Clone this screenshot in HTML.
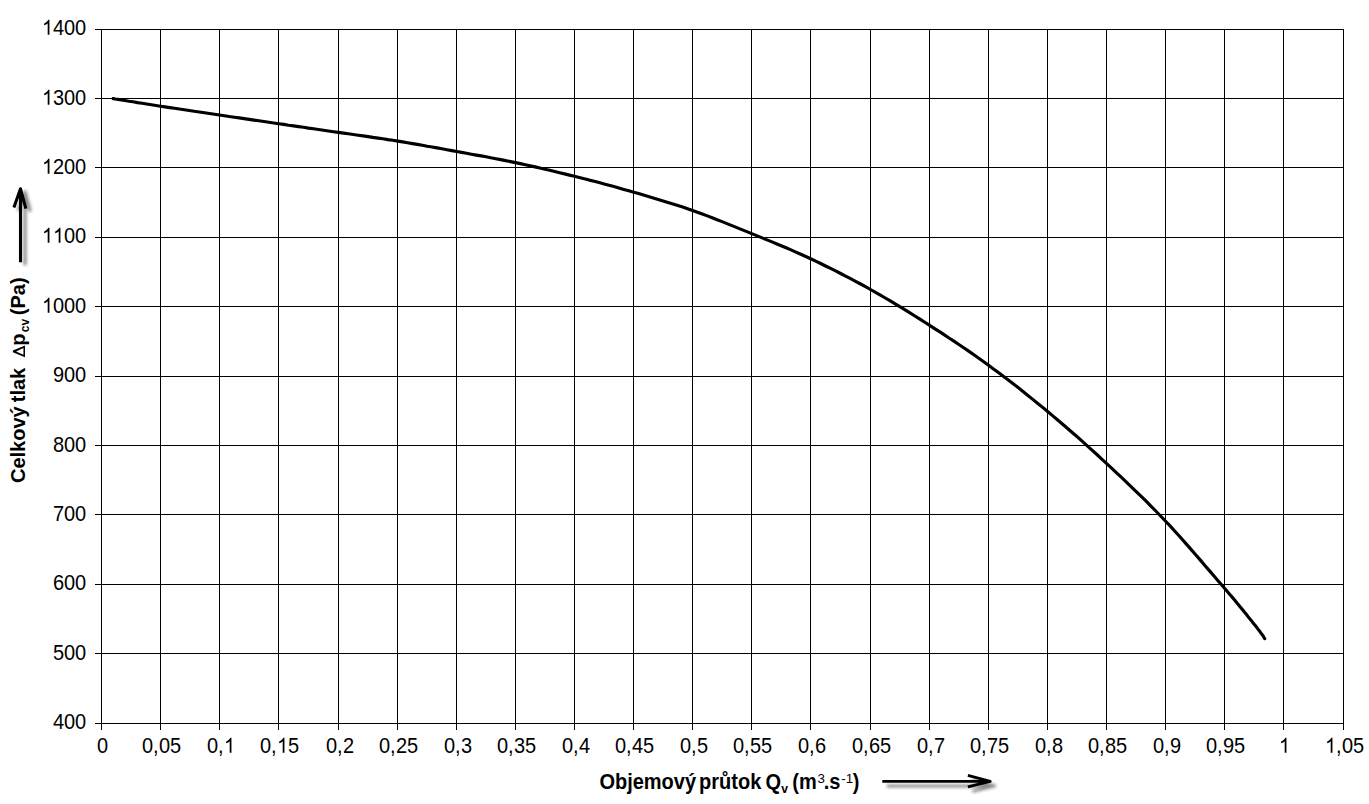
<!DOCTYPE html>
<html lang="cs"><head><meta charset="utf-8"><title>Charakteristika ventilátoru</title>
<style>html,body{margin:0;padding:0;background:#fff;}body{width:1369px;height:804px;overflow:hidden;}svg{display:block;}text{font-family:"Liberation Sans",sans-serif;fill:#000;}</style></head><body>
<svg width="1369" height="804" viewBox="0 0 1369 804">
<defs><filter id="sh" x="-30%" y="-30%" width="180%" height="180%"><feGaussianBlur stdDeviation="1.6"/></filter></defs>
<rect width="1369" height="804" fill="#fff"/>
<g stroke="#000" stroke-width="1" shape-rendering="crispEdges" fill="none">
<line x1="101.5" y1="29.0" x2="101.5" y2="730.0"/>
<line x1="160.5" y1="29.0" x2="160.5" y2="730.0"/>
<line x1="219.5" y1="29.0" x2="219.5" y2="730.0"/>
<line x1="278.5" y1="29.0" x2="278.5" y2="730.0"/>
<line x1="338.5" y1="29.0" x2="338.5" y2="730.0"/>
<line x1="397.5" y1="29.0" x2="397.5" y2="730.0"/>
<line x1="456.5" y1="29.0" x2="456.5" y2="730.0"/>
<line x1="515.5" y1="29.0" x2="515.5" y2="730.0"/>
<line x1="574.5" y1="29.0" x2="574.5" y2="730.0"/>
<line x1="633.5" y1="29.0" x2="633.5" y2="730.0"/>
<line x1="692.5" y1="29.0" x2="692.5" y2="730.0"/>
<line x1="751.5" y1="29.0" x2="751.5" y2="730.0"/>
<line x1="810.5" y1="29.0" x2="810.5" y2="730.0"/>
<line x1="870.5" y1="29.0" x2="870.5" y2="730.0"/>
<line x1="929.5" y1="29.0" x2="929.5" y2="730.0"/>
<line x1="988.5" y1="29.0" x2="988.5" y2="730.0"/>
<line x1="1047.5" y1="29.0" x2="1047.5" y2="730.0"/>
<line x1="1106.5" y1="29.0" x2="1106.5" y2="730.0"/>
<line x1="1165.5" y1="29.0" x2="1165.5" y2="730.0"/>
<line x1="1224.5" y1="29.0" x2="1224.5" y2="730.0"/>
<line x1="1283.5" y1="29.0" x2="1283.5" y2="730.0"/>
<line x1="1343.5" y1="29.0" x2="1343.5" y2="730.0"/>
<line x1="95.0" y1="29.5" x2="1344.0" y2="29.5"/>
<line x1="95.0" y1="98.5" x2="1344.0" y2="98.5"/>
<line x1="95.0" y1="167.5" x2="1344.0" y2="167.5"/>
<line x1="95.0" y1="237.5" x2="1344.0" y2="237.5"/>
<line x1="95.0" y1="306.5" x2="1344.0" y2="306.5"/>
<line x1="95.0" y1="376.5" x2="1344.0" y2="376.5"/>
<line x1="95.0" y1="445.5" x2="1344.0" y2="445.5"/>
<line x1="95.0" y1="514.5" x2="1344.0" y2="514.5"/>
<line x1="95.0" y1="584.5" x2="1344.0" y2="584.5"/>
<line x1="95.0" y1="653.5" x2="1344.0" y2="653.5"/>
<line x1="95.0" y1="723.5" x2="1344.0" y2="723.5"/>
</g>
<g font-size="21.40" fill="#000">
<g transform="translate(42.00,34.80) scale(0.9346,1.0000)"><path d="M7.97,0.00L6.09,0.00L6.09,-11.66Q5.41,-11.03 4.31,-10.40Q3.21,-9.77 2.33,-9.45L2.33,-11.22Q3.91,-11.94 5.09,-12.97Q6.27,-14.00 6.76,-14.96L7.97,-14.96Z"/><text x="11.77 23.54 35.31" y="0">400</text></g>
<g transform="translate(42.00,104.80) scale(0.9346,1.0000)"><path d="M7.97,0.00L6.09,0.00L6.09,-11.66Q5.41,-11.03 4.31,-10.40Q3.21,-9.77 2.33,-9.45L2.33,-11.22Q3.91,-11.94 5.09,-12.97Q6.27,-14.00 6.76,-14.96L7.97,-14.96Z"/><text x="11.77 23.54 35.31" y="0">300</text></g>
<g transform="translate(42.00,173.80) scale(0.9346,1.0000)"><path d="M7.97,0.00L6.09,0.00L6.09,-11.66Q5.41,-11.03 4.31,-10.40Q3.21,-9.77 2.33,-9.45L2.33,-11.22Q3.91,-11.94 5.09,-12.97Q6.27,-14.00 6.76,-14.96L7.97,-14.96Z"/><text x="11.77 23.54 35.31" y="0">200</text></g>
<g transform="translate(42.00,242.80) scale(0.9346,1.0000)"><path d="M7.97,0.00L6.09,0.00L6.09,-11.66Q5.41,-11.03 4.31,-10.40Q3.21,-9.77 2.33,-9.45L2.33,-11.22Q3.91,-11.94 5.09,-12.97Q6.27,-14.00 6.76,-14.96L7.97,-14.96Z"/><path d="M19.74,0.00L17.86,0.00L17.86,-11.66Q17.18,-11.03 16.08,-10.40Q14.98,-9.77 14.10,-9.45L14.10,-11.22Q15.68,-11.94 16.86,-12.97Q18.04,-14.00 18.53,-14.96L19.74,-14.96Z"/><text x="23.54 35.31" y="0">00</text></g>
<g transform="translate(42.00,312.80) scale(0.9346,1.0000)"><path d="M7.97,0.00L6.09,0.00L6.09,-11.66Q5.41,-11.03 4.31,-10.40Q3.21,-9.77 2.33,-9.45L2.33,-11.22Q3.91,-11.94 5.09,-12.97Q6.27,-14.00 6.76,-14.96L7.97,-14.96Z"/><text x="11.77 23.54 35.31" y="0">000</text></g>
<g transform="translate(53.00,381.80) scale(0.9346,1.0000)"><text x="0.00 11.77 23.54" y="0">900</text></g>
<g transform="translate(53.00,451.80) scale(0.9346,1.0000)"><text x="0.00 11.77 23.54" y="0">800</text></g>
<g transform="translate(53.00,520.80) scale(0.9346,1.0000)"><text x="0.00 11.77 23.54" y="0">700</text></g>
<g transform="translate(53.00,589.80) scale(0.9346,1.0000)"><text x="0.00 11.77 23.54" y="0">600</text></g>
<g transform="translate(53.00,659.80) scale(0.9346,1.0000)"><text x="0.00 11.77 23.54" y="0">500</text></g>
<g transform="translate(53.00,728.80) scale(0.9346,1.0000)"><text x="0.00 11.77 23.54" y="0">400</text></g>
<g transform="translate(97.00,752.80) scale(0.9346,1.0000)"><text x="0.00" y="0">0</text></g>
<g transform="translate(142.00,752.80) scale(0.9346,1.0000)"><text x="0.00 11.77 18.19 29.96" y="0">0,05</text></g>
<g transform="translate(207.00,752.80) scale(0.9346,1.0000)"><path d="M26.16,0.00L24.28,0.00L24.28,-11.66Q23.60,-11.03 22.50,-10.40Q21.40,-9.77 20.52,-9.45L20.52,-11.22Q22.10,-11.94 23.28,-12.97Q24.46,-14.00 24.95,-14.96L26.16,-14.96Z"/><text x="0.00 11.77" y="0">0,</text></g>
<g transform="translate(260.00,752.80) scale(0.9346,1.0000)"><path d="M26.16,0.00L24.28,0.00L24.28,-11.66Q23.60,-11.03 22.50,-10.40Q21.40,-9.77 20.52,-9.45L20.52,-11.22Q22.10,-11.94 23.28,-12.97Q24.46,-14.00 24.95,-14.96L26.16,-14.96Z"/><text x="0.00 11.77 29.96" y="0">0,5</text></g>
<g transform="translate(326.00,752.80) scale(0.9346,1.0000)"><text x="0.00 11.77 18.19" y="0">0,2</text></g>
<g transform="translate(379.00,752.80) scale(0.9346,1.0000)"><text x="0.00 11.77 18.19 29.96" y="0">0,25</text></g>
<g transform="translate(444.00,752.80) scale(0.9346,1.0000)"><text x="0.00 11.77 18.19" y="0">0,3</text></g>
<g transform="translate(497.00,752.80) scale(0.9346,1.0000)"><text x="0.00 11.77 18.19 29.96" y="0">0,35</text></g>
<g transform="translate(562.00,752.80) scale(0.9346,1.0000)"><text x="0.00 11.77 18.19" y="0">0,4</text></g>
<g transform="translate(615.00,752.80) scale(0.9346,1.0000)"><text x="0.00 11.77 18.19 29.96" y="0">0,45</text></g>
<g transform="translate(680.00,752.80) scale(0.9346,1.0000)"><text x="0.00 11.77 18.19" y="0">0,5</text></g>
<g transform="translate(733.00,752.80) scale(0.9346,1.0000)"><text x="0.00 11.77 18.19 29.96" y="0">0,55</text></g>
<g transform="translate(798.00,752.80) scale(0.9346,1.0000)"><text x="0.00 11.77 18.19" y="0">0,6</text></g>
<g transform="translate(852.00,752.80) scale(0.9346,1.0000)"><text x="0.00 11.77 18.19 29.96" y="0">0,65</text></g>
<g transform="translate(917.00,752.80) scale(0.9346,1.0000)"><text x="0.00 11.77 18.19" y="0">0,7</text></g>
<g transform="translate(970.00,752.80) scale(0.9346,1.0000)"><text x="0.00 11.77 18.19 29.96" y="0">0,75</text></g>
<g transform="translate(1035.00,752.80) scale(0.9346,1.0000)"><text x="0.00 11.77 18.19" y="0">0,8</text></g>
<g transform="translate(1088.00,752.80) scale(0.9346,1.0000)"><text x="0.00 11.77 18.19 29.96" y="0">0,85</text></g>
<g transform="translate(1153.00,752.80) scale(0.9346,1.0000)"><text x="0.00 11.77 18.19" y="0">0,9</text></g>
<g transform="translate(1206.00,752.80) scale(0.9346,1.0000)"><text x="0.00 11.77 18.19 29.96" y="0">0,95</text></g>
<g transform="translate(1279.00,752.80) scale(0.9346,1.0000)"><path d="M7.97,0.00L6.09,0.00L6.09,-11.66Q5.41,-11.03 4.31,-10.40Q3.21,-9.77 2.33,-9.45L2.33,-11.22Q3.91,-11.94 5.09,-12.97Q6.27,-14.00 6.76,-14.96L7.97,-14.96Z"/></g>
<g transform="translate(1325.00,752.80) scale(0.9346,1.0000)"><path d="M7.97,0.00L6.09,0.00L6.09,-11.66Q5.41,-11.03 4.31,-10.40Q3.21,-9.77 2.33,-9.45L2.33,-11.22Q3.91,-11.94 5.09,-12.97Q6.27,-14.00 6.76,-14.96L7.97,-14.96Z"/><text x="11.77 18.19 29.96" y="0">,05</text></g>
</g>
<path d="M113.1,98.6 L115.4,99.0 L118.1,99.4 L121.3,99.9 L125.0,100.5 L128.9,101.2 L133.1,101.8 L137.5,102.6 L142.1,103.3 L146.7,104.0 L151.4,104.8 L156.0,105.5 L160.5,106.2 L165.0,106.9 L169.7,107.6 L174.4,108.3 L179.3,109.0 L184.3,109.8 L189.3,110.5 L194.3,111.3 L199.4,112.0 L204.5,112.8 L209.5,113.5 L214.5,114.3 L219.5,115.0 L224.4,115.7 L229.3,116.5 L234.3,117.2 L239.2,117.9 L244.1,118.6 L249.1,119.4 L254.0,120.1 L258.9,120.8 L263.9,121.5 L268.8,122.3 L273.7,123.0 L278.7,123.7 L283.7,124.4 L288.6,125.2 L293.6,125.9 L298.6,126.6 L303.6,127.3 L308.5,128.1 L313.5,128.8 L318.5,129.5 L323.5,130.2 L328.5,131.0 L333.4,131.7 L338.4,132.4 L343.4,133.1 L348.3,133.8 L353.3,134.5 L358.2,135.2 L363.2,135.9 L368.1,136.6 L373.0,137.4 L378.0,138.1 L382.9,138.8 L387.8,139.6 L392.8,140.3 L397.7,141.1 L402.6,141.9 L407.6,142.7 L412.5,143.6 L417.4,144.4 L422.3,145.3 L427.2,146.2 L432.2,147.0 L437.1,147.9 L442.0,148.8 L446.9,149.7 L451.8,150.6 L456.7,151.5 L461.6,152.4 L466.5,153.3 L471.4,154.2 L476.3,155.1 L481.2,155.9 L486.1,156.8 L490.9,157.8 L495.8,158.7 L500.7,159.6 L505.6,160.6 L510.5,161.6 L515.4,162.6 L520.3,163.6 L525.2,164.7 L530.1,165.8 L535.0,166.9 L539.9,168.0 L544.9,169.2 L549.8,170.3 L554.7,171.5 L559.6,172.7 L564.5,173.9 L569.5,175.1 L574.4,176.3 L579.3,177.5 L584.3,178.8 L589.2,180.1 L594.2,181.3 L599.1,182.6 L604.1,184.0 L609.0,185.3 L614.0,186.6 L618.9,188.0 L623.8,189.4 L628.8,190.8 L633.7,192.2 L638.6,193.6 L643.5,195.1 L648.4,196.5 L653.3,197.9 L658.2,199.4 L663.1,200.9 L668.0,202.4 L672.9,204.0 L677.8,205.5 L682.7,207.1 L687.6,208.8 L692.5,210.5 L697.4,212.3 L702.3,214.0 L707.3,215.9 L712.2,217.8 L717.1,219.7 L722.1,221.6 L727.0,223.6 L732.0,225.6 L736.9,227.6 L741.8,229.6 L746.8,231.6 L751.7,233.6 L756.6,235.6 L761.5,237.6 L766.4,239.6 L771.4,241.6 L776.3,243.7 L781.2,245.7 L786.1,247.8 L791.0,249.9 L795.9,252.1 L800.8,254.3 L805.8,256.5 L810.7,258.8 L815.7,261.1 L820.6,263.5 L825.6,266.0 L830.6,268.4 L835.6,270.9 L840.6,273.5 L845.6,276.1 L850.6,278.7 L855.6,281.3 L860.6,284.0 L865.5,286.7 L870.5,289.5 L875.5,292.3 L880.4,295.1 L885.3,298.0 L890.3,300.9 L895.2,303.9 L900.2,306.9 L905.1,309.9 L910.0,312.9 L914.9,316.0 L919.9,319.1 L924.8,322.3 L929.7,325.4 L934.6,328.6 L939.5,331.7 L944.4,334.9 L949.4,338.2 L954.3,341.4 L959.2,344.7 L964.1,348.0 L969.0,351.4 L973.9,354.8 L978.8,358.2 L983.7,361.7 L988.6,365.3 L993.5,368.9 L998.4,372.6 L1003.3,376.3 L1008.3,380.0 L1013.2,383.8 L1018.1,387.6 L1023.0,391.5 L1027.9,395.4 L1032.8,399.4 L1037.8,403.4 L1042.7,407.4 L1047.6,411.5 L1052.5,415.6 L1057.4,419.8 L1062.4,424.0 L1067.3,428.2 L1072.2,432.5 L1077.2,436.8 L1082.1,441.2 L1087.0,445.6 L1092.0,450.1 L1096.9,454.5 L1101.8,459.1 L1106.7,463.6 L1111.6,468.2 L1116.5,472.8 L1121.5,477.4 L1126.4,482.1 L1131.3,486.8 L1136.2,491.6 L1141.2,496.4 L1146.1,501.2 L1150.9,506.1 L1155.8,511.0 L1160.6,516.0 L1165.4,521.0 L1170.3,526.2 L1175.3,531.7 L1180.4,537.3 L1185.5,543.1 L1190.6,548.9 L1195.7,554.7 L1200.6,560.4 L1205.3,565.9 L1209.8,571.1 L1214.0,576.0 L1217.8,580.5 L1221.3,584.5 L1224.3,588.0 L1226.9,591.0 L1229.2,593.7 L1231.2,596.0 L1233.0,598.1 L1234.6,600.0 L1236.0,601.7 L1237.4,603.4 L1238.7,605.0 L1240.0,606.7 L1241.5,608.4 L1243.0,610.3 L1244.6,612.3 L1246.3,614.3 L1247.9,616.4 L1249.6,618.4 L1251.2,620.4 L1252.7,622.4 L1254.2,624.3 L1255.7,626.1 L1257.0,627.8 L1258.2,629.4 L1259.3,630.8 L1260.3,632.1 L1261.1,633.2 L1261.8,634.1 L1262.4,635.0 L1262.9,635.6 L1263.3,636.2 L1263.6,636.7 L1263.8,637.1 L1264.0,637.5 L1264.2,637.8 L1264.4,638.1 L1264.5,638.3 L1264.7,638.6" fill="none" stroke="#000" stroke-width="3.15" stroke-linejoin="round" stroke-linecap="round"/>
<g transform="translate(0,789.00) scale(0.9346,1)" font-size="21.40" font-weight="bold">
<text x="641.34" y="0">Objemový</text>
<text x="748.02" y="0">průtok</text>
<text x="818.96" y="0">Q</text>
<text x="847.66" y="0">(m</text>
<text x="881.30" y="0">.s</text>
<text x="912.37" y="0">)</text>
</g>
<text x="781.35" y="792.70" font-size="12.20" font-weight="bold">v</text>
<text x="817.49" y="782.90" font-size="13.30" font-weight="normal">3</text>
<text x="841.21" y="782.90" font-size="13.30" font-weight="normal">-1</text>
<path d="M882.3,781.4 L989.5,781.4 M967.9,775.4 L990.2,781.4 L967.9,786.9" transform="translate(4.5,4.5)" fill="none" stroke="#444" stroke-opacity="0.62" stroke-width="3" stroke-linejoin="round" filter="url(#sh)"/>
<path d="M882.3,781.4 L989.5,781.4 M967.9,775.4 L990.2,781.4 L967.9,786.9" fill="none" stroke="#000" stroke-width="2.9" stroke-linejoin="round" stroke-linecap="butt"/>
<g transform="translate(0,483) rotate(-90) translate(0,25.00) scale(1,1.035) translate(0,-25.00)">
<text x="-0.02" y="25.00" font-size="20.00" font-weight="bold">Celkový</text>
<text x="80.76" y="25.00" font-size="20.00" font-weight="bold">tlak</text>
<path d="M125.80,25.00 L130.80,13.30 L132.40,13.30 L137.40,25.00 Z M128.30,23.50 L131.60,16.40 L134.90,23.50 Z" fill="#000" fill-rule="evenodd"/>
<text x="137.28" y="25.00" font-size="20.00" font-weight="bold">p</text>
<text x="150.73" y="28.60" font-size="12.00" font-weight="bold">cv</text>
<text x="167.80" y="25.00" font-size="20.00" font-weight="bold">(Pa)</text>
</g>
<path d="M20.5,262.3 L20.5,189.5 M13.9,207.6 L20.5,188.8 L25.9,208.7" transform="translate(4.5,3)" fill="none" stroke="#444" stroke-opacity="0.62" stroke-width="3.2" stroke-linejoin="round" filter="url(#sh)"/>
<path d="M20.5,262.3 L20.5,189.5 M13.9,207.6 L20.5,188.8 L25.9,208.7" fill="none" stroke="#000" stroke-width="3.1" stroke-linejoin="round" stroke-linecap="butt"/>
</svg></body></html>
